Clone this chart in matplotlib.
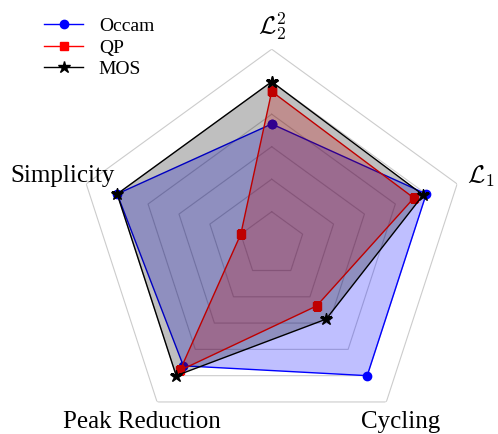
import numpy as np
import matplotlib
matplotlib.use('Agg')
import matplotlib.pyplot as plt

plt.rcParams['font.family'] = ['Liberation Serif', 'DejaVu Serif']
plt.rcParams['mathtext.fontset'] = 'cm'

# axes go clockwise from the top
labels = [r'$\mathcal{L}_2^2$', r'$\mathcal{L}_1$', 'Cycling', 'Peak Reduction', 'Simplicity']
occam = [0.74, 1.0, 1.0, 0.925, 1.0]
qp = [0.94, 0.92, 0.47, 0.96, 0.2]
mos = [1.0, 0.98, 0.57, 1.0, 1.0]
rings = [0.2, 0.4, 0.6, 0.8, 1.0, 1.2]

series = [
    ('Occam', occam, 'blue', 'o', 6),
    ('QP', qp, 'red', 's', 6),
    ('MOS', mos, 'black', '*', 9),
]

n = len(labels)
angles = np.linspace(0, 2 * np.pi, n, endpoint=False)
closed = np.append(angles, angles[0])

fig = plt.figure(figsize=(4.98, 4.34), dpi=100)
cx, cy, rad = 271.7, 244.2, 195.0
ax = fig.add_axes([(cx - rad) / 498, (434 - cy - rad) / 434, 2 * rad / 498, 2 * rad / 434],
                  projection='polar')
ax.set_theta_offset(np.pi / 2)
ax.set_theta_direction(-1)
ax.set_ylim(0, 1.2)
ax.axis('off')

# pentagon grid
for r in rings:
    ax.plot(closed, [r] * (n + 1), color='#cccccc', lw=0.8, zorder=1)

z = 2
for name, vals, col, mk, ms in series:
    v = np.append(vals, vals[0])
    ax.plot(closed, v, color=col, lw=1.0, marker=mk, markersize=ms, label=name, zorder=z)
    ax.fill(closed, v, color=col, alpha=0.25, lw=0, zorder=z + 1)
    z += 2

for a, lab in zip(angles, labels):
    r = 1.335 if a == 0 else 1.355
    ax.text(a, r, lab, ha='center', va='center', fontsize=18)

ax.legend(loc='upper left', bbox_to_anchor=(0.054, 1.0), bbox_transform=fig.transFigure,
          frameon=False, fontsize=14, labelspacing=0.2, handlelength=2.0)

fig.savefig('out.png', dpi=100)
